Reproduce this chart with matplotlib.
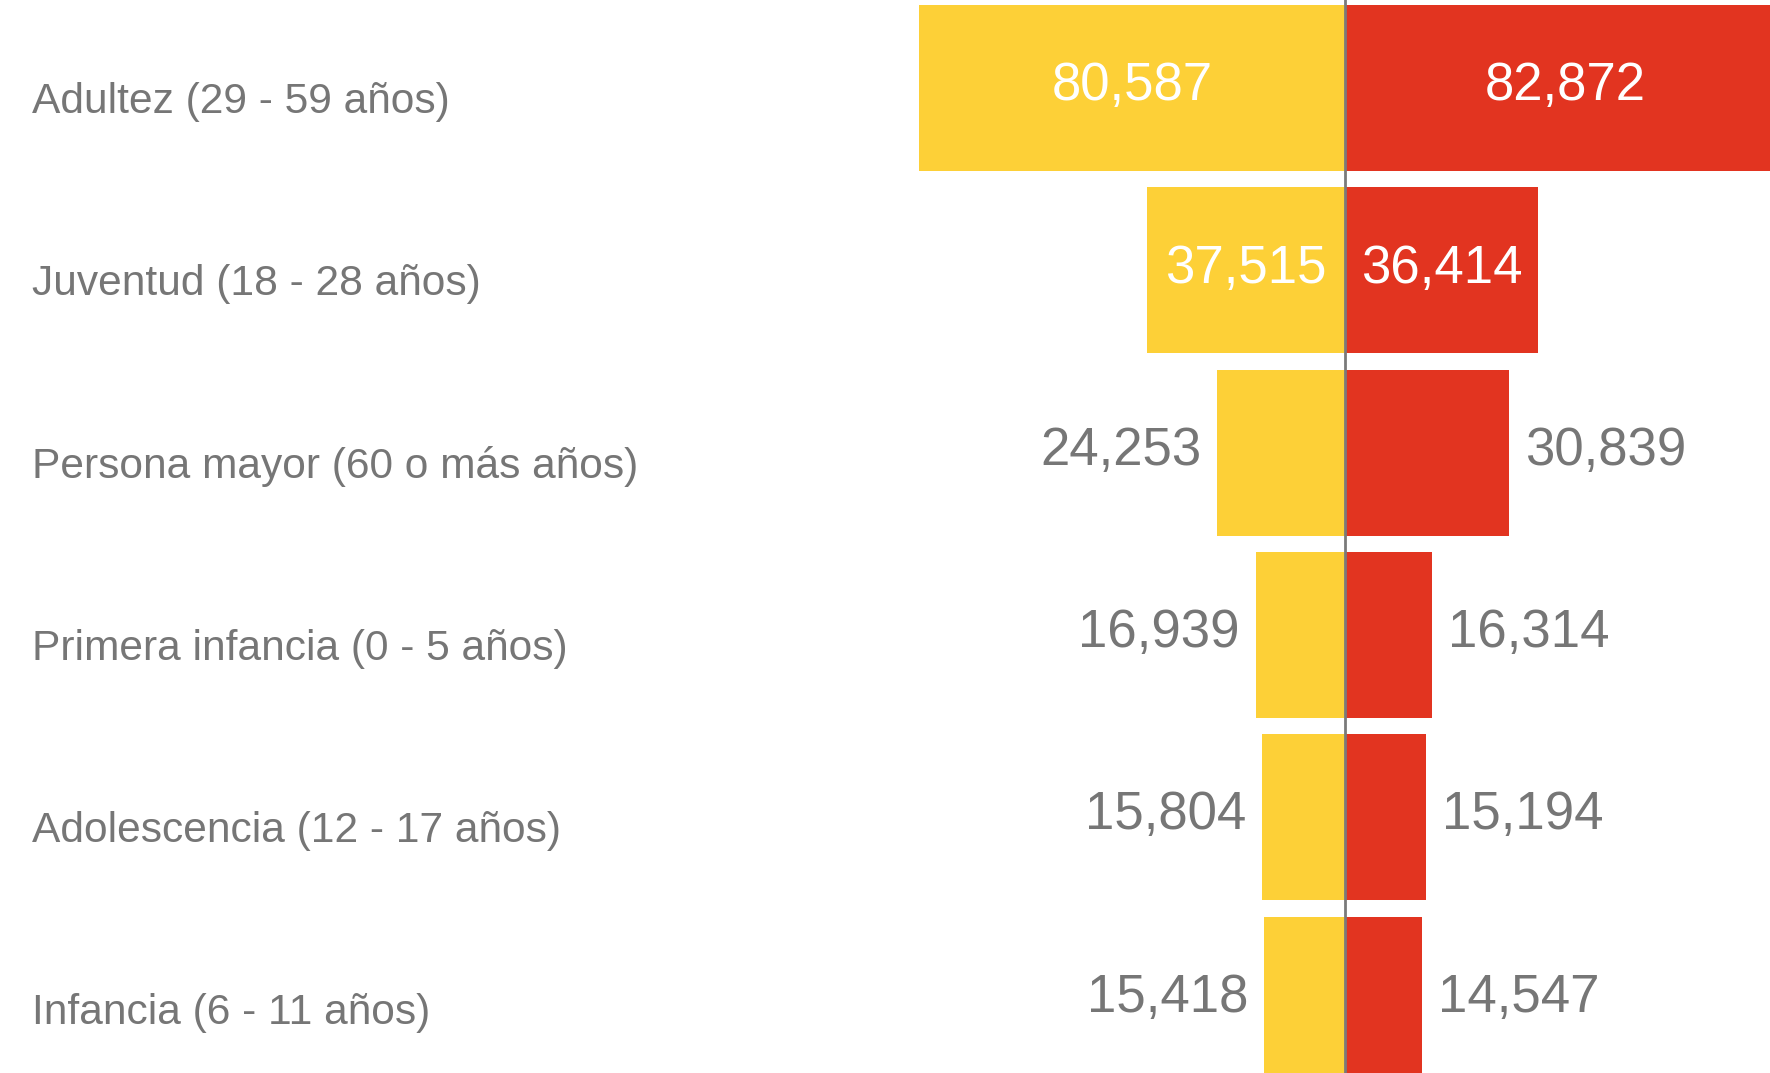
import matplotlib
matplotlib.use("Agg")
import matplotlib.pyplot as plt

categories = ["Adultez (29 - 59 años)", "Juventud (18 - 28 años)",
              "Persona mayor (60 o más años)", "Primera infancia (0 - 5 años)",
              "Adolescencia (12 - 17 años)", "Infancia (6 - 11 años)"]
left_values = [80587, 37515, 24253, 16939, 15804, 15418]
right_values = [82872, 36414, 30839, 16314, 15194, 14547]

YELLOW = "#FDD037"
RED = "#E23420"
GRAY = "#767676"
FONT = ["Liberation Sans", "DejaVu Sans"]

fig = plt.figure(figsize=(17.7, 10.73), dpi=100)
ax = fig.add_axes([0, 0, 1, 1])
ax.set_xlim(-254250, 80215)
ax.set_ylim(5.403, -0.483)
ax.axis("off")

ys = list(range(len(categories)))
h = 0.91
ax.barh(ys, [-v for v in left_values], height=h, color=YELLOW, edgecolor="none")
ax.barh(ys, right_values, height=h, color=RED, edgecolor="none")
ax.axvline(0, color="#7a7a7a", lw=2.0, zorder=5)

inside_min = 35000
for y, lab, lv, rv in zip(ys, categories, left_values, right_values):
    ax.text(0.018, y + 0.075, lab, transform=ax.get_yaxis_transform(),
            ha="left", va="center", fontsize=30.6, color=GRAY, family=FONT)
    if lv >= inside_min:
        ax.text(-lv / 2, y - 0.01, f"{lv:,}", ha="center", va="center",
                fontsize=38, color="white", family=FONT)
    else:
        ax.annotate(f"{lv:,}", (-lv, y - 0.01), xytext=(-11.5, 0),
                    textcoords="offset points", ha="right", va="center",
                    fontsize=38, color=GRAY, family=FONT)
    if rv >= inside_min:
        ax.text(rv / 2, y - 0.01, f"{rv:,}", ha="center", va="center",
                fontsize=38, color="white", family=FONT)
    else:
        ax.annotate(f"{rv:,}", (rv, y - 0.01), xytext=(11.5, 0),
                    textcoords="offset points", ha="left", va="center",
                    fontsize=38, color=GRAY, family=FONT)

fig.savefig("out.png", dpi=100, facecolor="white")
